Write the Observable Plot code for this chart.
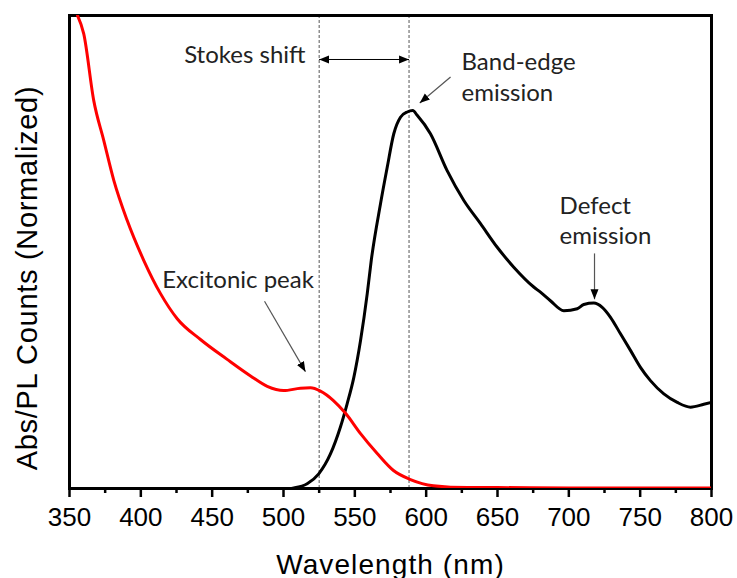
<!DOCTYPE html>
<html>
<head>
<meta charset="utf-8">
<script src="https://cdn.jsdelivr.net/npm/d3@7"></script>
<script src="https://cdn.jsdelivr.net/npm/@observablehq/plot@0.6"></script>
<style>
  body { margin: 0; background: #fff; }
  #chart svg { display: block; }
  text[aria-label="x-title"] { letter-spacing: 1.1px; }
  text[aria-label="y-title"] { letter-spacing: 0.7px; }
</style>
</head>
<body>
<div id="chart"></div>
<script>
// Absorbance spectrum (red)
const absWavelength = [355.6, 360.0, 367.0, 374.0, 381.1, 390.4, 402.1, 413.8, 425.5, 441.8, 460.5, 476.9,
  488.6, 500.0, 511.9, 518.9, 525.9, 535.0, 543.5, 554.0, 565.7, 577.1, 589.0, 605.1, 629.0, 650, 700, 750, 800];
const absValue = [1.0, 0.961, 0.820, 0.736, 0.651, 0.567, 0.482, 0.412, 0.359, 0.315, 0.273, 0.238,
  0.216, 0.207, 0.212, 0.213, 0.206, 0.186, 0.159, 0.116, 0.074, 0.038, 0.019, 0.006, 0.002, 0.002, 0.001, 0.001, 0.001];

// Photoluminescence spectrum (black)
const plWavelength = [490, 504.9, 507.0, 516.6, 524.7, 532.9, 539.9, 544.6, 549.3, 554.0, 558.7, 561.5, 568.0,
  572.7, 577.3, 582.0, 586.7, 590.6, 593.7, 603.0, 614.7, 626.4, 638.1, 649.8, 661.4, 675.4, 680.1,
  687.1, 696.5, 705.9, 710.5, 717.5, 723.4, 729.2, 736.2, 743.2, 750.2, 757.2, 766.6, 776.0, 785.3, 794.6, 800];
const plValue = [0, 0, 0.001, 0.010, 0.031, 0.073, 0.130, 0.179, 0.235, 0.313, 0.412, 0.482, 0.602,
  0.679, 0.750, 0.785, 0.796, 0.799, 0.789, 0.750, 0.672, 0.609, 0.560, 0.510, 0.468, 0.426, 0.415,
  0.397, 0.376, 0.380, 0.389, 0.392, 0.383, 0.362, 0.327, 0.292, 0.256, 0.228, 0.200, 0.182, 0.172, 0.178, 0.182];

// Axis ticks
const majorTicks = [350, 400, 450, 500, 550, 600, 650, 700, 750, 800];
const minorTicks = [375, 425, 475, 525, 575, 625, 675, 725, 775];

// Absorption edge and emission maximum marking the Stokes shift
const shiftLines = [525, 588];
const shiftArrowY = [0.907];

// Annotation labels
const labelText = ["Stokes shift", "Band-edge\nemission", "Defect\nemission", "Excitonic peak"];
const labelX = [515.4, 624.8, 693.5, 415.0];
const labelY = [0.899, 0.820, 0.516, 0.424];
const labelAnchor = ["end", "start", "start", "start"];

// Pointer arrows: start (x1, y1) to tip (x2, y2)
const arrowX1 = [617.1, 718.0, 486.7];
const arrowY1 = [0.870, 0.497, 0.396];
const arrowX2 = [595.5, 718.0, 515.4];
const arrowY2 = [0.815, 0.400, 0.247];

// Filled triangular arrowhead
function arrowHead(color, context) {
  const ns = "http://www.w3.org/2000/svg";
  const doc = context.document;
  const m = doc.createElementNS(ns, "marker");
  m.setAttribute("viewBox", "-10 -5 10 10");
  m.setAttribute("markerWidth", "10");
  m.setAttribute("markerHeight", "10");
  m.setAttribute("markerUnits", "userSpaceOnUse");
  m.setAttribute("orient", "auto-start-reverse");
  const p = doc.createElementNS(ns, "path");
  p.setAttribute("d", "M-10,-4L0,0L-10,4Z");
  p.setAttribute("fill", "#000");
  p.setAttribute("stroke", "none");
  m.appendChild(p);
  return m;
}

const axisFont = "'Liberation Sans', Arial, sans-serif";
const noteFont = "Lato, 'Open Sans', sans-serif";
const labelIndex = d3.range(labelText.length);

function labelMark(anchor) {
  return Plot.text(labelIndex.filter(i => labelAnchor[i] === anchor), {
    x: i => labelX[i], y: i => labelY[i], text: i => labelText[i],
    textAnchor: anchor, lineAnchor: "bottom", lineHeight: 1.27,
    fontFamily: noteFont, fontSize: 24, fill: "#222"
  });
}

const chart = Plot.plot({
  width: 737,
  height: 578,
  marginLeft: 69,
  marginRight: 26,
  marginTop: 15,
  marginBottom: 90,
  style: { fontFamily: axisFont, color: "#000", background: "#fff" },
  x: { domain: [350, 800], label: null },
  y: { domain: [0, 1], axis: null, label: null },
  marks: [
    Plot.ruleX(shiftLines, { stroke: "#555", strokeWidth: 1, strokeDasharray: "3,2" }),
    Plot.axisX(majorTicks, { tickSize: 9, tickPadding: 10, strokeWidth: 2.5, fontSize: 26, label: null }),
    Plot.axisX(minorTicks, { tickSize: 5, strokeWidth: 2.5, tickFormat: () => "", label: null }),
    Plot.frame({ stroke: "#000", strokeWidth: 3 }),
    Plot.line(plValue, { x: plWavelength, y: plValue, stroke: "#000", strokeWidth: 3, curve: "monotone-x", clip: true }),
    Plot.line(absValue, { x: absWavelength, y: absValue, stroke: "#ff0000", strokeWidth: 3, curve: "monotone-x", clip: true }),
    Plot.link(shiftArrowY, {
      x1: shiftLines[0], x2: shiftLines[1], y1: d => d, y2: d => d,
      stroke: "#000", strokeWidth: 1, markerStart: arrowHead, markerEnd: arrowHead
    }),
    Plot.link(arrowX1, {
      x1: arrowX1, y1: arrowY1, x2: arrowX2, y2: arrowY2,
      stroke: "#555", strokeWidth: 1.2, markerEnd: arrowHead
    }),
    labelMark("end"),
    labelMark("start"),
    Plot.text(["Wavelength (nm)"], {
      frameAnchor: "bottom", dy: 85, lineAnchor: "bottom", textAnchor: "middle", text: d => d,
      fontSize: 28, fill: "#000", ariaLabel: () => "x-title"
    }),
    Plot.text(["Abs/PL Counts (Normalized)"], {
      frameAnchor: "left", dx: -42, dy: 26, rotate: -90, textAnchor: "middle", lineAnchor: "middle", text: d => d,
      fontSize: 29, fill: "#000", ariaLabel: () => "y-title"
    })
  ]
});

document.getElementById("chart").appendChild(chart);
</script>
</body>
</html>
